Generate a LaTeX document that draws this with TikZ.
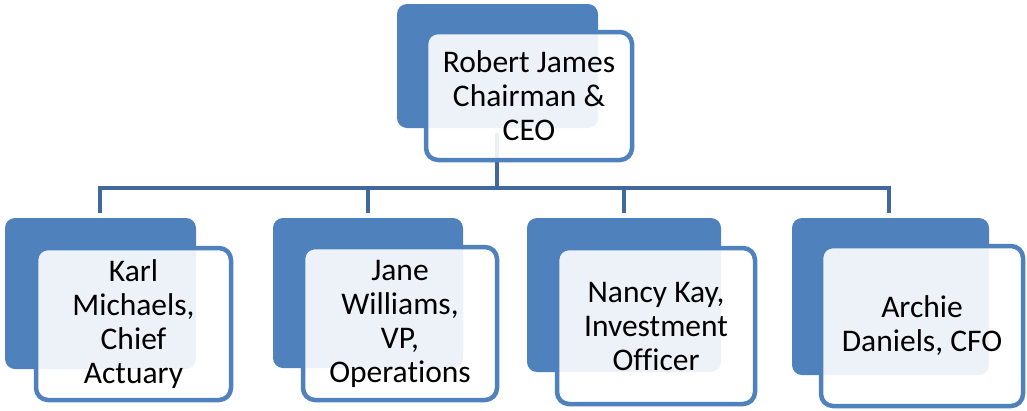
\documentclass[tikz,border=0pt]{standalone}
\usepackage{fontspec}
\setmainfont{Carlito}[Ligatures=NoCommon]
\definecolor{boxblue}{HTML}{4F81BD}
\definecolor{linkblue}{HTML}{41689C}
\begin{document}
\begin{tikzpicture}[x=1pt,y=-1pt,
  darkbox/.style={fill=boxblue, draw=none, rounded corners=10pt, inner sep=0pt},
  textbox/.style={draw=boxblue, line width=4.5pt, fill=white, fill opacity=0.9, text opacity=1,
    rounded corners=12pt, inner sep=0pt, align=center, text=black,
    font=\fontsize{31.5}{34}\selectfont},
  link/.style={draw=linkblue, line width=4.5pt}]
\useasboundingbox (0,0) rectangle (1027,410);
% connectors (behind boxes)
\coordinate (ctop) at (497,133);
\coordinate (cbar) at (497,188);
\coordinate (d1) at (100,213);
\coordinate (d2) at (368,213);
\coordinate (d3) at (624,213);
\coordinate (d4) at (889,213);
\draw[link] (ctop) -- (cbar);
\draw[link] (d1) |- (cbar) -| (d4);
\draw[link] (d2) -- (d2 |- cbar);
\draw[link] (d3) -- (d3 |- cbar);
% dark boxes
\node[darkbox, minimum width=201pt, minimum height=124pt] (top0) at (497.5,66) {};
\node[darkbox, minimum width=191pt, minimum height=151pt] (k0) at (100.5,293.5) {};
\node[darkbox, minimum width=190pt, minimum height=150pt] (j0) at (368,293) {};
\node[darkbox, minimum width=194pt, minimum height=154pt] (n0) at (624,295) {};
\node[darkbox, minimum width=197pt, minimum height=157pt] (a0) at (890.5,296.5) {};
% text boxes
\node[textbox, minimum width=206pt, minimum height=128pt] (top) at (529,96) {Robert James\\Chairman \&\\CEO};
\node[textbox, minimum width=195pt, minimum height=152pt] (karl) at (133.5,324) {Karl\\Michaels,\\Chief\\Actuary};
\node[textbox, minimum width=194pt, minimum height=153pt] (jane) at (400,323.5) {Jane\\Williams,\\VP,\\Operations};
\node[textbox, minimum width=198pt, minimum height=156pt] (nancy) at (656,326) {Nancy Kay,\\Investment\\Officer};
\node[textbox, minimum width=202pt, minimum height=160pt] (archie) at (922,326) {Archie\\Daniels, CFO};
\end{tikzpicture}
\end{document}
